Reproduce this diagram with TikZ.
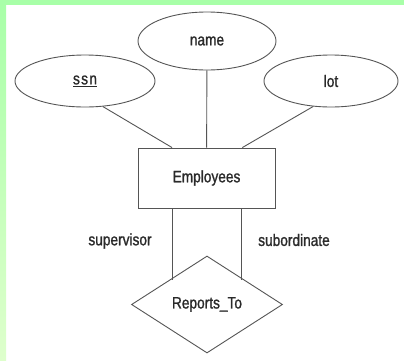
\documentclass[tikz,border=0pt]{standalone}
\usepackage{fontspec}
\setmainfont{Liberation Sans}[FakeStretch=0.83, FakeBold=1.2]
\usetikzlibrary{shapes.geometric,calc}
\definecolor{topgreen}{HTML}{A8FFA8}
\definecolor{botgreen}{HTML}{DEFFCC}
\definecolor{inkgray}{HTML}{2A2A2A}
\definecolor{linegray}{HTML}{555555}
\tikzset{
  attr/.style={draw=linegray, line width=0.9pt, ellipse, inner sep=0pt, text=inkgray},
  entity/.style={draw=linegray, line width=0.9pt, rectangle, inner sep=0pt, text=inkgray},
  rel/.style={draw=linegray, line width=0.9pt, diamond, inner sep=0pt, text=inkgray},
  rolelabel/.style={text=inkgray, inner sep=0pt},
  conn/.style={draw=linegray, line width=0.9pt},
}
\begin{document}
\begin{tikzpicture}[x=1pt, y=-1pt, font=\fontsize{16.5}{20}\selectfont]
\useasboundingbox (0,0) rectangle (404,360);
\fill[white] (0,0) rectangle (404,360);
\shade[top color=topgreen, bottom color=botgreen] (0,0) rectangle (6,360);
\fill[topgreen] (0,0) rectangle (404,5);

\node[attr, minimum width=138pt, minimum height=58pt] (name) at (207,41) {name};
\node[attr, minimum width=140pt, minimum height=52pt] (ssn) at (85,81) {\addfontfeature{LetterSpace=8}\underline{ssn}};
\node[attr, minimum width=134pt, minimum height=52pt] (lot) at (331,81) {lot};
\node[entity, minimum width=137pt, minimum height=60pt] (emp) at (206.5,178) {Employees};
\node[rel, minimum width=151pt, minimum height=97pt] (rt) at (207,304.5) {Reports\_To};
\node[rolelabel] (sup) at (120,241) {supervisor};
\node[rolelabel] (sub) at (294,240) {subordinate};

\coordinate (e1) at ($(emp.north west)!0.25!(emp.north east)$);
\coordinate (e3) at ($(emp.north west)!0.76!(emp.north east)$);
\coordinate (b1) at ($(emp.south west)!0.25!(emp.south east)$);
\coordinate (b3) at ($(emp.south west)!0.75!(emp.south east)$);

\draw[conn] (ssn.305) -- (e1);
\draw[conn] (name) -- (emp);
\draw[conn] (lot.235) -- (e3);
\draw[conn] (b1) -- (rt.north west -| b1);
\draw[conn] (b3) -- (rt.north east -| b3);
\end{tikzpicture}
\end{document}
